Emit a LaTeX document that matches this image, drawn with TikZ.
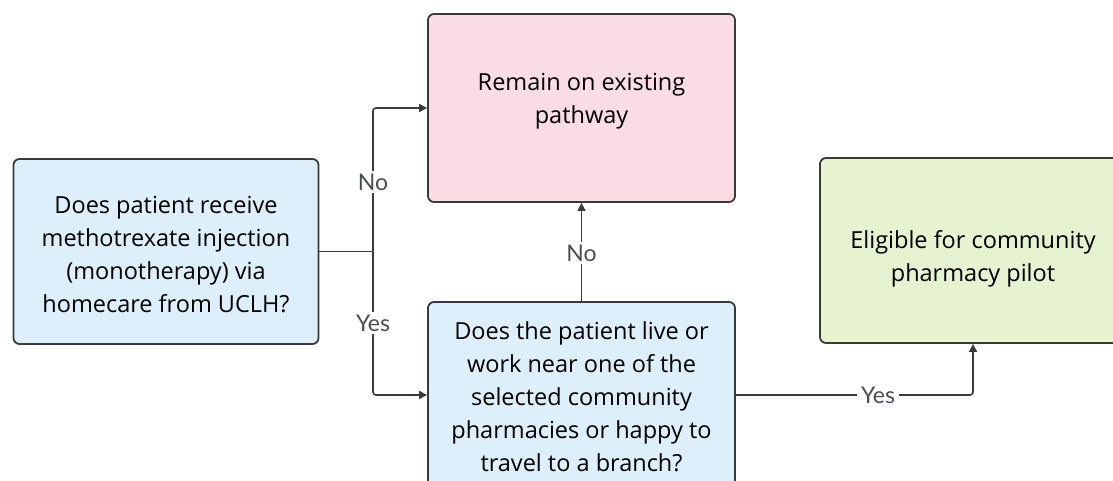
\documentclass[tikz,border=0pt]{standalone}
\usepackage{fontspec}
\setmainfont{Open Sans}
\newfontfamily\lblfont{Lato}
\usetikzlibrary{arrows.meta,calc}
\definecolor{qblue}{HTML}{DDEFFA}
\definecolor{kpink}{HTML}{FADCE4}
\definecolor{egreen}{HTML}{E7F2D1}
\definecolor{edge}{HTML}{3A3A3A}
\definecolor{lblgray}{HTML}{4C4C54}
\tikzset{
  box/.style={draw=edge, line width=1.8pt, rounded corners=6pt, inner sep=0pt},
  boxtext/.style={align=center, font=\fontsize{23.5}{33}\selectfont, text=black},
  conn/.style={draw=edge, line width=1.6pt, rounded corners=3pt},
  arr/.style={conn, -{Triangle[length=8pt,width=8pt]}},
  lbl/.style={fill=white, inner xsep=4pt, inner ysep=3pt, font=\lblfont\fontsize{23}{26}\selectfont, text=lblgray}
}
\begin{document}
\begin{tikzpicture}[x=1pt,y=-1pt]
\useasboundingbox (0,0) rectangle (1113,481);
\clip (0,0) rectangle (1113,481);
\fill[white] (0,0) rectangle (1113,481);

% boxes
\node[box, fill=qblue, minimum width=305pt, minimum height=185pt] (q1) at (166,251.5) {};
\node[box, fill=kpink, minimum width=307pt, minimum height=188pt] (keep) at (581.5,108) {};
\node[box, fill=qblue, minimum width=307pt, minimum height=186pt] (q2) at (581.5,395) {};
\node[box, fill=egreen, minimum width=306pt, minimum height=185pt] (elig) at (973,250.5) {};

% box texts
\node[boxtext] (q1t) at (166,255) {Does patient receive\\methotrexate injection\\(monotherapy) via\\homecare from UCLH?};
\node[boxtext] (keept) at (581.5,101) {Remain on existing\\pathway};
\node[boxtext] (q2t) at (581.5,397) {Does the patient live or\\work near one of the\\selected community\\pharmacies or happy to\\travel to a branch?};
\node[boxtext] (eligt) at (973,259) {Eligible for community\\pharmacy pilot};

% connectors
\coordinate (j) at (373,251.5);
\draw[conn] (q1.east) -- (j);
\draw[arr] (j) |- (keep.west);
\draw[arr] (j) |- (q2.west);
\draw[arr] (q2.north) -- (keep.south);
\draw[arr] (q2.east) -| (elig.south);

% connector labels
\node[lbl] (no1) at (373,182) {No};
\node[lbl] (yes1) at (373,323) {Yes};
\node[lbl] (no2) at (581.5,253) {No};
\node[lbl] (yes2) at (878,395) {Yes};
\end{tikzpicture}
\end{document}
